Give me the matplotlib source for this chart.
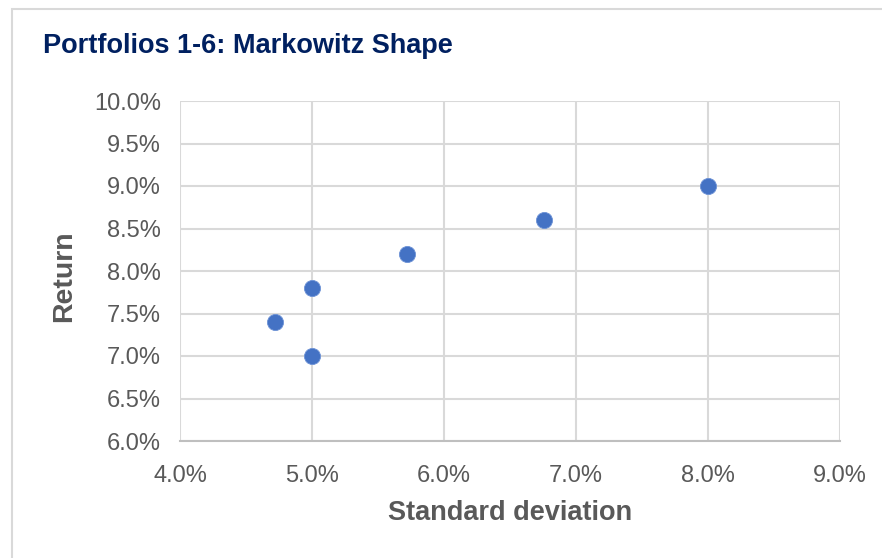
import matplotlib
matplotlib.use("Agg")
import matplotlib.pyplot as plt
from matplotlib.patches import Rectangle
from matplotlib.ticker import FuncFormatter, MultipleLocator

# --------- data --------------------------------
std_dev = [5.00, 4.72, 5.00, 5.72, 6.76, 8.00]
returns = [7.00, 7.40, 7.80, 8.20, 8.60, 9.00]

title = "Portfolios 1-6: Markowitz Shape"
x_label = "Standard deviation"
y_label = "Return"

plt.rcParams["font.family"] = ["Liberation Sans", "DejaVu Sans"]

W, H = 882, 558
fig = plt.figure(figsize=(W / 100, H / 100), dpi=100)

# chart frame (extends past the right/bottom edge)
fig.patches.append(
    Rectangle((12 / W, 1 - 700 / H), 1000 / W, (700 - 9) / H,
              transform=fig.transFigure, facecolor="none",
              edgecolor="#D9D9D9", linewidth=1.5)
)

ax = fig.add_axes([180 / W, 1 - 441 / H, (840 - 180) / W, (441 - 101) / H])
ax.scatter(std_dev, returns, s=135, color="#4472C4", edgecolor="#6E93D6",
           linewidth=0.6, zorder=3)

ax.set_xlim(4.0, 9.0)
ax.set_ylim(6.0, 10.0)
ax.xaxis.set_major_locator(MultipleLocator(1.0))
ax.yaxis.set_major_locator(MultipleLocator(0.5))
pct = FuncFormatter(lambda v, _: f"{v:.1f}%")
ax.xaxis.set_major_formatter(pct)
ax.yaxis.set_major_formatter(pct)

ax.grid(True, color="#D9D9D9", linewidth=1.5, zorder=0)
ax.set_axisbelow(True)
for side in ["top", "right", "left"]:
    ax.spines[side].set_visible(False)
ax.spines["bottom"].set_color("#BFBFBF")
ax.spines["bottom"].set_linewidth(1.5)

ax.tick_params(length=0, labelsize=17, colors="#595959")
ax.tick_params(axis="x", pad=17)
ax.tick_params(axis="y", pad=13.5)

fig.text(510 / W, 1 - 513 / H, x_label, ha="center", va="center",
         fontsize=19.5, fontweight="bold", color="#595959")
fig.text(64 / W, 1 - 276 / H, y_label, ha="center", va="center",
         rotation=90, fontsize=20.5, fontweight="bold", color="#595959")
fig.text(43 / W, 1 - 53 / H, title, ha="left", va="baseline",
         fontsize=19.5, fontweight="bold", color="#002060")

fig.savefig("out.png", dpi=100)
